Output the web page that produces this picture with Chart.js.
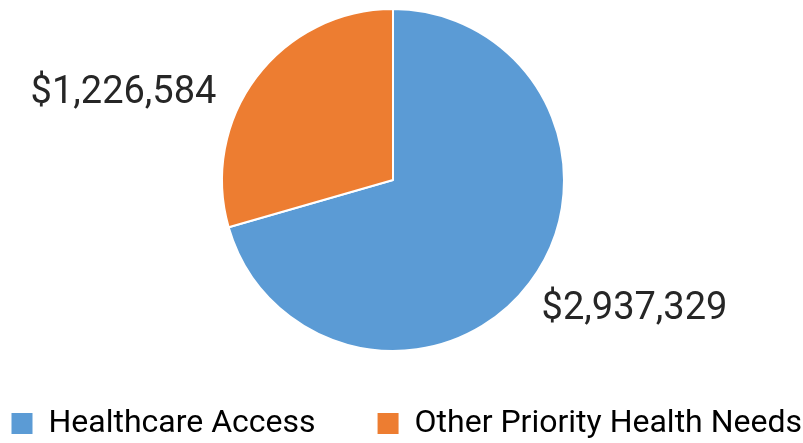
<!DOCTYPE html>
<html><head><meta charset="utf-8">
<script src="https://cdn.jsdelivr.net/npm/chart.js@4.4.1/dist/chart.umd.min.js"></script>
<style>html,body{margin:0;padding:0;background:#fff}#wrap{width:803px;height:443px;position:relative}</style>
</head><body><div id="wrap"><canvas id="c"></canvas></div>
<script>
const categories = ['Healthcare Access', 'Other Priority Health Needs'];
const values = [2937329, 1226584];
const valueLabels = ['$2,937,329', '$1,226,584'];
const colors = ['#5B9BD5', '#ED7D31'];

const valueLabelPlugin = {
  id: 'valueLabels',
  afterDatasetsDraw(chart) {
    const ctx = chart.ctx;
    const meta = chart.getDatasetMeta(0);
    ctx.save();
    ctx.font = '38px Roboto';
    ctx.fillStyle = '#262626';
    ctx.textBaseline = 'middle';
    meta.data.forEach((arc, i) => {
      const p = arc.getProps(['x', 'y', 'startAngle', 'endAngle', 'outerRadius'], true);
      const mid = (p.startAngle + p.endAngle) / 2;
      const ax = p.x + Math.cos(mid) * p.outerRadius;
      const ay = p.y + Math.sin(mid) * p.outerRadius;
      if (Math.cos(mid) < 0) {
        ctx.textAlign = 'right';
        ctx.fillText(valueLabels[i], ax - 40, ay + 16);
      } else {
        ctx.textAlign = 'left';
        ctx.fillText(valueLabels[i], ax + 12, ay + 27);
      }
    });
    ctx.restore();
  }
};

const LEGEND_PAD = 62;
const legendShift = {
  id: 'legendShift',
  beforeLayout(chart) {
    const lg = chart.legend;
    if (lg && !lg._wide) {
      const fit = lg.fit;
      lg.fit = function () {
        const mw = this.maxWidth;
        this.maxWidth = 2000;
        fit.call(this);
        this.maxWidth = mw;
        this.width = mw;
      };
      lg._wide = true;
    }
  },
  afterLayout(chart) {
    const lg = chart.legend;
    if (!lg) return;
    lg.left = 11.5 - LEGEND_PAD;
    lg.right = lg.left + 2000;
    lg.top -= 6.5;
  }
};

new Chart(document.getElementById('c'), {
  type: 'pie',
  data: {
    labels: categories,
    datasets: [{
      data: values,
      backgroundColor: colors,
      borderColor: '#ffffff',
      borderWidth: 2
    }]
  },
  options: {
    responsive: true,
    maintainAspectRatio: false,
    animation: false,
    events: [],
    layout: { padding: { top: 8, left: 0, right: 17, bottom: 0 } },
    plugins: {
      tooltip: { enabled: false },
      legend: {
        position: 'bottom',
        align: 'start',
        maxHeight: 91,
        labels: {
          font: { family: 'Roboto', size: 32 },
          color: '#262626',
          boxWidth: 21,
          boxHeight: 21,
          padding: LEGEND_PAD,
          generateLabels(chart) {
            const ds = chart.data.datasets[0];
            return chart.data.labels.map((l, i) => ({
              text: l,
              fillStyle: ds.backgroundColor[i],
              strokeStyle: 'rgba(0,0,0,0)',
              lineWidth: 0,
              hidden: false,
              index: i
            }));
          }
        }
      }
    }
  },
  plugins: [valueLabelPlugin, legendShift]
});
</script>
</body></html>
